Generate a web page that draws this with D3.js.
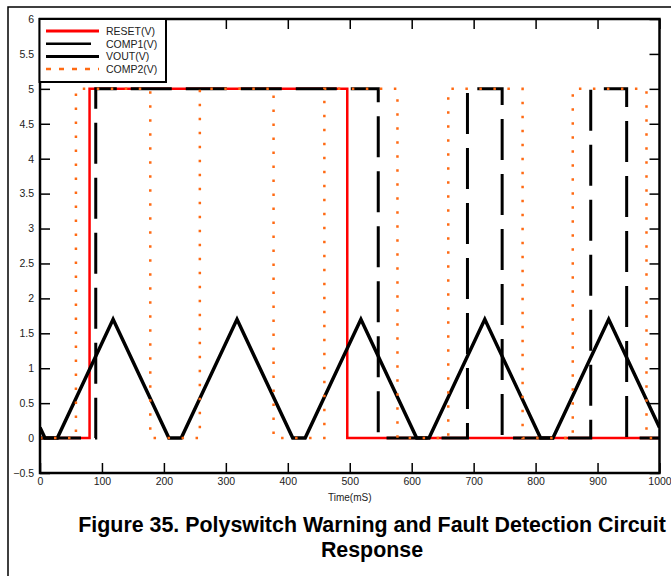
<!DOCTYPE html>
<head>
  <meta charset="utf-8">
  <script src="https://d3js.org/d3.v7.min.js"></script>
  <style>
    body { margin: 0; background: #fff; }
    svg { display: block; font-family: "Liberation Sans", Arial, sans-serif; }
  </style>
</head>
<body>
  <div class="chart"></div>
  <script>
    // series as [time (mS), volts] points
    var resetPts = [[0,0],[80,0],[80,5],[496,5],[496,0],[1000,0]];
    var comp1Pts = [[0,0],[90,0],[90,5],[546,5],[546,0],[690,0],[690,5],[746,5],[746,0],
                    [889,0],[889,5],[947,5],[947,0],[1000,0]];
    var voutPts  = [[0,0.15],[8,0],[28,0],[118,1.7],[208,0],[228,0],[318,1.7],[408,0],[428,0],
                    [518,1.7],[608,0],[628,0],[718,1.7],[808,0],[828,0],[918,1.7],[1000,0.15]];
    var comp2Pts = [[0,0],[58,0],[58,5],[178,5],[178,0],[258,0],[258,5],[377,5],[377,0],
                    [459,0],[459,5],[577,5],[577,0],[659,0],[659,5],[779,5],[779,0],
                    [860,0],[860,5],[979,5],[979,0],[1000,0]];
    var seriesNames = ["RESET(V)", "COMP1(V)", "VOUT(V)", "COMP2(V)"];
    var xTicks = [0,100,200,300,400,500,600,700,800,900,1000];
    var yTicks = [-0.5,0,0.5,1,1.5,2,2.5,3,3.5,4,4.5,5,5.5,6];

    (function() {
      var width = 671, height = 576;
      var left = 40, right = 659.5, top = 19, bottom = 473;

      var svg = d3.select(".chart").append("svg")
        .attr("width", width)
        .attr("height", height);

      // page frame
      svg.append("path")
        .attr("d", "M8,576V7H671")
        .attr("fill", "none")
        .attr("stroke", "#000")
        .attr("stroke-width", 1.5);

      var x = d3.scaleLinear().domain([0, 1000]).range([left, right]);
      var y = d3.scaleLinear().domain([-0.5, 6]).range([bottom, top]);

      svg.append("defs").append("clipPath").attr("id", "plot")
        .append("rect")
        .attr("x", left).attr("y", top)
        .attr("width", right - left).attr("height", bottom - top);

      // axes, ticks pointing inward on all four sides
      var fmt = function(d) { return d3.format("")(d) };
      var axB = svg.append("g").attr("transform", "translate(0," + bottom + ")")
        .call(d3.axisBottom(x).tickValues(xTicks).tickSize(-10).tickPadding(5).tickFormat(fmt));
      var axT = svg.append("g").attr("transform", "translate(0," + top + ")")
        .call(d3.axisTop(x).tickValues(xTicks).tickSize(-10).tickFormat(""));
      var axL = svg.append("g").attr("transform", "translate(" + left + ",0)")
        .call(d3.axisLeft(y).tickValues(yTicks).tickSize(-10).tickPadding(6).tickFormat(fmt));
      var axR = svg.append("g").attr("transform", "translate(" + right + ",0)")
        .call(d3.axisRight(y).tickValues(yTicks).tickSize(-10).tickFormat(""));

      [axB, axT, axL, axR].forEach(function(a) {
        a.select(".domain").remove();
        a.selectAll(".tick line").attr("stroke", "#000").attr("stroke-width", 1.5);
        a.selectAll(".tick text").attr("font-size", 10.5).attr("fill", "#222")
          .attr("font-family", "Liberation Sans, Arial, sans-serif");
      });

      var line = d3.line()
        .x(function(d) { return x(d[0]) })
        .y(function(d) { return y(d[1]) });

      var plot = svg.append("g").attr("clip-path", "url(#plot)");

      plot.append("path").datum(resetPts)
        .attr("d", line).attr("fill", "none")
        .attr("stroke", "#ff0000").attr("stroke-width", 2.5);

      plot.append("path").datum(comp1Pts)
        .attr("d", line).attr("fill", "none")
        .attr("stroke", "#000").attr("stroke-width", 3)
        .attr("stroke-dasharray", "41,14");

      plot.append("path").datum(voutPts)
        .attr("d", line).attr("fill", "none")
        .attr("stroke", "#000").attr("stroke-width", 3.5)
        .attr("stroke-linejoin", "miter");

      plot.append("path").datum(comp2Pts)
        .attr("d", line).attr("fill", "none")
        .attr("stroke", "#ff6a13").attr("stroke-width", 2.5)
        .attr("stroke-dasharray", "2.5,11.5");

      // plot box
      svg.append("rect")
        .attr("x", left).attr("y", top)
        .attr("width", right - left).attr("height", bottom - top)
        .attr("fill", "none").attr("stroke", "#000").attr("stroke-width", 2.5);

      // legend
      var lg = svg.append("g");
      lg.append("rect")
        .attr("x", 39.5).attr("y", 19).attr("width", 126.5).attr("height", 63)
        .attr("fill", "#fff").attr("stroke", "#000").attr("stroke-width", 2);

      var legendStyle = [
        { color: "#ff0000", w: 3, len: 53, dash: null },
        { color: "#000", w: 2.5, len: 45, dash: null },
        { color: "#000", w: 3, len: 53, dash: null },
        { color: "#ff6a13", w: 2.5, len: 53, dash: "5,8" }
      ];
      seriesNames.forEach(function(name, i) {
        var ly = 31 + i * 12.7;
        var s = legendStyle[i];
        lg.append("line")
          .attr("x1", 46).attr("x2", 46 + s.len)
          .attr("y1", ly).attr("y2", ly)
          .attr("stroke", s.color).attr("stroke-width", s.w)
          .attr("stroke-dasharray", s.dash);
        lg.append("text")
          .attr("x", 106).attr("y", ly + 3.8)
          .attr("font-size", 10.5).attr("fill", "#222")
          .text(name);
      });

      // axis title
      svg.append("text")
        .attr("x", (left + right) / 2).attr("y", 501)
        .attr("text-anchor", "middle")
        .attr("font-size", 10).attr("fill", "#222")
        .text("Time(mS)");

      // caption
      svg.append("text")
        .attr("x", 372).attr("y", 531.5)
        .attr("text-anchor", "middle")
        .attr("font-size", 21.4).attr("font-weight", "bold").attr("fill", "#000")
        .text("Figure 35. Polyswitch Warning and Fault Detection Circuit");
      svg.append("text")
        .attr("x", 372).attr("y", 556.5)
        .attr("text-anchor", "middle")
        .attr("font-size", 21.4).attr("font-weight", "bold").attr("fill", "#000")
        .text("Response");
    })();
  </script>
</body>
